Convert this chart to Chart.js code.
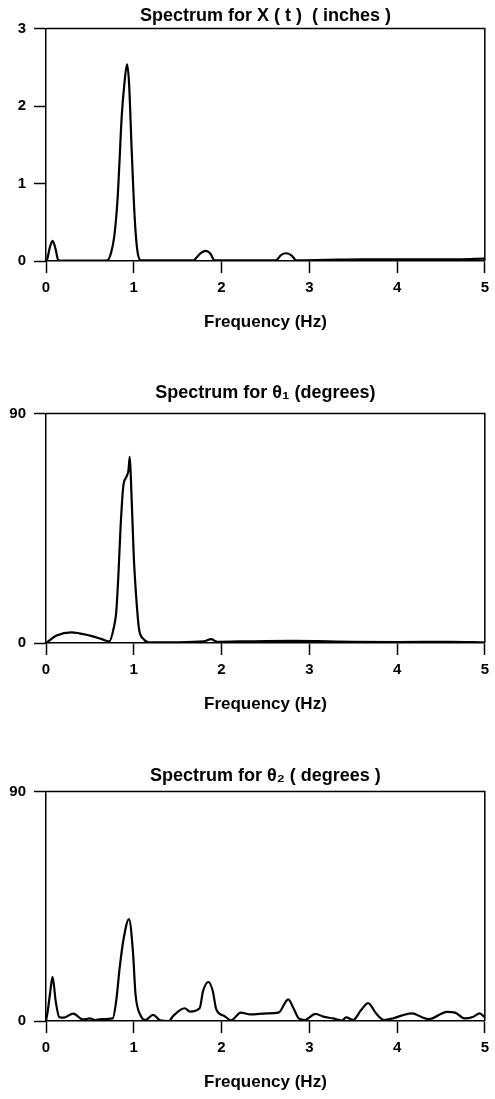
<!DOCTYPE html>
<html>
<head>
<meta charset="utf-8">
<script src="https://cdn.jsdelivr.net/npm/chart.js@4.4.1/dist/chart.umd.min.js"></script>
<style>
  html, body { margin: 0; padding: 0; background: #fff; }
  body { width: 495px; height: 1099px; position: relative; overflow: hidden; }
  canvas { position: absolute; left: 0; }
</style>
</head>
<body>
<canvas id="spectrum-x" width="495" height="333" style="top:0px"></canvas>
<canvas id="spectrum-theta1" width="495" height="338" style="top:377px"></canvas>
<canvas id="spectrum-theta2" width="495" height="333" style="top:760px"></canvas>
<script>
// Spectrum for X(t), inches
const freqX = [0, 0.01, 0.045, 0.075, 0.11, 0.14, 0.3, 0.5, 0.7, 0.74, 0.777, 0.815, 0.833, 0.863, 0.89, 0.923, 0.946, 0.976, 1.01, 1.04, 1.08, 1.2, 1.5, 1.68, 1.75, 1.82, 1.87, 1.92, 2.2, 2.62, 2.68, 2.74, 2.8, 2.85, 3.2, 3.6, 4.0, 4.5, 5.0];
const specX = [0, 0.01, 0.18, 0.26, 0.15, 0.01, 0.005, 0.005, 0.01, 0.10, 0.31, 0.79, 1.18, 1.87, 2.25, 2.54, 2.30, 1.44, 0.57, 0.14, 0.01, 0.01, 0.01, 0.01, 0.09, 0.13, 0.10, 0.01, 0.01, 0.01, 0.08, 0.10, 0.07, 0.01, 0.015, 0.02, 0.02, 0.02, 0.03];

// Spectrum for theta 1, degrees
const freqT1 = [0, 0.12, 0.29, 0.5, 0.63, 0.72, 0.777, 0.8, 0.826, 0.85, 0.88, 0.916, 0.94, 0.954, 0.968, 1.0, 1.03, 1.06, 1.11, 1.17, 1.5, 1.8, 1.88, 1.95, 2.2, 2.8, 3.5, 4.0, 4.6, 5.0];
const specT1 = [0, 2.9, 4.2, 2.9, 1.6, 0.6, 6.8, 12, 27.5, 45.7, 61.3, 65.2, 67.8, 73, 63.9, 34, 17, 5.5, 1.6, 0.3, 0.3, 0.6, 1.5, 0.5, 0.6, 0.8, 0.5, 0.4, 0.5, 0.3];

// Spectrum for theta 2, degrees
const freqT2 = [0, 0.02, 0.045, 0.075, 0.11, 0.15, 0.2, 0.31, 0.42, 0.5, 0.56, 0.63, 0.76, 0.8, 0.84, 0.88, 0.946, 0.99, 1.02, 1.08, 1.13, 1.22, 1.3, 1.4, 1.45, 1.58, 1.64, 1.75, 1.79, 1.85, 1.9, 1.94, 2.03, 2.11, 2.22, 2.33, 2.52, 2.65, 2.76, 2.82, 2.88, 2.95, 3.07, 3.16, 3.27, 3.37, 3.42, 3.5, 3.59, 3.67, 3.76, 3.85, 3.95, 4.06, 4.17, 4.29, 4.36, 4.57, 4.66, 4.77, 4.87, 4.94, 5.0];
const specT2 = [0, 3.9, 10.5, 17.3, 7.9, 1.6, 1.3, 2.9, 0.6, 1, 0.4, 0.7, 1, 7.9, 21, 31.4, 40, 27.5, 10.5, 2, 0.4, 2.4, 0.3, 0, 2, 5, 3.7, 5, 11.8, 15.3, 11.8, 4.6, 2, 0.3, 3.3, 2.6, 3.0, 3.3, 8.5, 5, 1, 0.4, 2.8, 1.7, 1.0, 0.2, 1.4, 0.4, 4.3, 7, 3, 0.4, 1, 2.2, 3, 1.4, 0.7, 3.6, 3.3, 1, 1.7, 3, 1.4];

const freqTicks = [0, 1, 2, 3, 4, 5];

Chart.defaults.font.family = '"Liberation Sans", Arial, sans-serif';
Chart.defaults.color = '#000';

// draws the top and right edges of the plot box
const frameBox = {
  id: 'frameBox',
  afterDraw(chart) {
    const { ctx, chartArea: a } = chart;
    ctx.save();
    ctx.strokeStyle = '#000';
    ctx.lineWidth = 1.5;
    ctx.beginPath();
    ctx.moveTo(a.left, a.top);
    ctx.lineTo(a.right, a.top);
    ctx.lineTo(a.right, a.bottom);
    ctx.stroke();
    ctx.restore();
  }
};

function renderSpectrum(id, title, titleGap, freqs, values, yMax) {
  const ctx = document.getElementById(id).getContext('2d');
  new Chart(ctx, {
    type: 'line',
    data: {
      datasets: [{
        data: freqs.map((f, i) => ({ x: f, y: values[i] })),
        borderColor: '#000',
        borderWidth: 2.2,
        pointRadius: 0,
        fill: false,
        cubicInterpolationMode: 'monotone'
      }]
    },
    options: {
      responsive: false,
      animation: false,
      layout: { padding: { top: 0, right: 5, bottom: 0, left: 0 } },
      plugins: {
        legend: { display: false },
        tooltip: { enabled: false },
        title: {
          display: true,
          fullSize: false, // centre over the plot box, not the whole canvas
          text: title,
          font: { size: 18, weight: 'bold' },
          padding: { top: 5, bottom: titleGap }
        }
      },
      scales: {
        x: {
          type: 'linear',
          min: 0,
          max: 5,
          afterBuildTicks: (scale) => { scale.ticks = freqTicks.map(v => ({ value: v })); },
          afterFit: (scale) => { scale.height = 72; },
          border: { display: true, color: '#000', width: 1.5 },
          grid: { drawOnChartArea: false, drawTicks: true, tickLength: 12, tickColor: '#000', tickWidth: 1.5 },
          ticks: { font: { size: 15, weight: 'bold' }, padding: 6, maxRotation: 0 },
          title: {
            display: true,
            text: 'Frequency (Hz)',
            font: { size: 17, weight: 'bold' },
            padding: { top: 0, bottom: 0 }
          }
        },
        y: {
          min: 0,
          max: yMax,
          ticks: { stepSize: yMax === 3 ? 1 : 90, font: { size: 15, weight: 'bold' }, padding: 8 },
          afterFit: (scale) => { scale.width = 46; },
          border: { display: true, color: '#000', width: 1.5 },
          grid: { drawOnChartArea: false, drawTicks: true, tickLength: 12, tickColor: '#000', tickWidth: 1.5 }
        }
      }
    },
    plugins: [frameBox]
  });
}

renderSpectrum('spectrum-x', 'Spectrum for X ( t )  ( inches )', 2, freqX, specX, 3);
renderSpectrum('spectrum-theta1', 'Spectrum for θ₁ (degrees)', 10, freqT1, specT1, 90);
renderSpectrum('spectrum-theta2', 'Spectrum for θ₂ ( degrees )', 5, freqT2, specT2, 90);
</script>
</body>
</html>
